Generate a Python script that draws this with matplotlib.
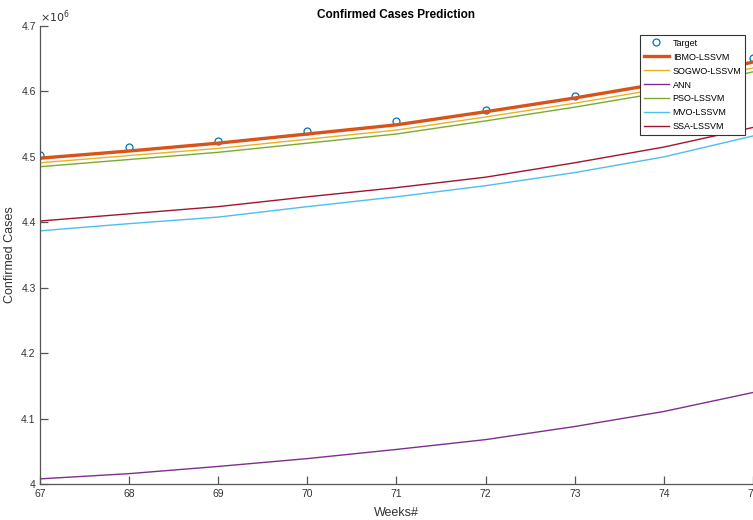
import matplotlib
matplotlib.use("Agg")
import matplotlib.pyplot as plt
from matplotlib.ticker import FuncFormatter

plt.rcParams['font.family'] = ['Liberation Sans', 'DejaVu Sans']

# weeks and predictions (cases)
weeks = [67, 68, 69, 70, 71, 72, 73, 74, 75]
target = [4.503e6, 4.515e6, 4.524e6, 4.540e6, 4.555e6, 4.572e6, 4.593e6, 4.620e6, 4.651e6]
ibmo = [4.498e6, 4.509e6, 4.521e6, 4.535e6, 4.549e6, 4.569e6, 4.590e6, 4.613e6, 4.645e6]
sogwo = [4.491e6, 4.502e6, 4.513e6, 4.527e6, 4.541e6, 4.561e6, 4.582e6, 4.605e6, 4.636e6]
ann = [4.008e6, 4.016e6, 4.027e6, 4.039e6, 4.053e6, 4.068e6, 4.088e6, 4.111e6, 4.140e6]
pso = [4.485e6, 4.496e6, 4.507e6, 4.521e6, 4.535e6, 4.555e6, 4.576e6, 4.599e6, 4.630e6]
mvo = [4.387e6, 4.398e6, 4.408e6, 4.424e6, 4.439e6, 4.456e6, 4.476e6, 4.500e6, 4.532e6]
ssa = [4.402e6, 4.413e6, 4.424e6, 4.439e6, 4.453e6, 4.469e6, 4.491e6, 4.515e6, 4.545e6]

fig = plt.figure(figsize=(7.53, 5.2), dpi=100)
ax = fig.add_axes([0.053, 0.069, 0.947, 0.881])

ax.plot(weeks, target, 'o', mfc='none', mec='#0072BD', ms=5, mew=0.9, label='Target')
ax.plot(weeks, ibmo, color='#D95319', lw=2.4, label='IBMO-LSSVM')
ax.plot(weeks, sogwo, color='#EDB120', lw=1, label='SOGWO-LSSVM')
ax.plot(weeks, ann, color='#7E2F8E', lw=1, label='ANN')
ax.plot(weeks, pso, color='#77AC30', lw=1, label='PSO-LSSVM')
ax.plot(weeks, mvo, color='#4DBEEE', lw=1, label='MVO-LSSVM')
ax.plot(weeks, ssa, color='#A2142F', lw=1, label='SSA-LSSVM')

ax.set_xlim(67, 75)
ax.set_ylim(4.0e6, 4.7e6)
ax.set_xticks(weeks)
ax.set_yticks([4.0e6, 4.1e6, 4.2e6, 4.3e6, 4.4e6, 4.5e6, 4.6e6, 4.7e6])
ax.yaxis.set_major_formatter(FuncFormatter(lambda v, p: '%g' % round(v / 1e6, 2)))

for s in ['top', 'right']:
    ax.spines[s].set_visible(False)
for s in ['left', 'bottom']:
    ax.spines[s].set_color('#555555')
    ax.spines[s].set_linewidth(0.9)
ax.tick_params(direction='in', length=6, width=0.9, colors='#555555', labelsize=7.5,
               labelcolor='#333333')
ax.tick_params(axis='y', pad=3)

ax.text(0.0, 1.003, r'$\times10^{6}$', transform=ax.transAxes, fontsize=8,
        color='#333333', ha='left', va='bottom')

ax.set_title('Confirmed Cases Prediction', fontsize=8.5, fontweight='bold', pad=6)
ax.set_xlabel('Weeks#', fontsize=9, color='#333333', labelpad=6)
ax.set_ylabel('Confirmed Cases', fontsize=9, color='#333333')
ax.yaxis.set_label_coords(-0.033, 0.5)

leg = ax.legend(loc='upper right', bbox_to_anchor=(745 / 753, 1 - 35 / 520),
                bbox_transform=fig.transFigure, fontsize=6.5, frameon=True,
                fancybox=False, framealpha=1, edgecolor='#333333',
                handlelength=2.8, labelspacing=0.55, borderpad=0.4,
                handletextpad=0.4, borderaxespad=0)
leg.get_frame().set_linewidth(0.8)

fig.savefig('out.png', dpi=100)
